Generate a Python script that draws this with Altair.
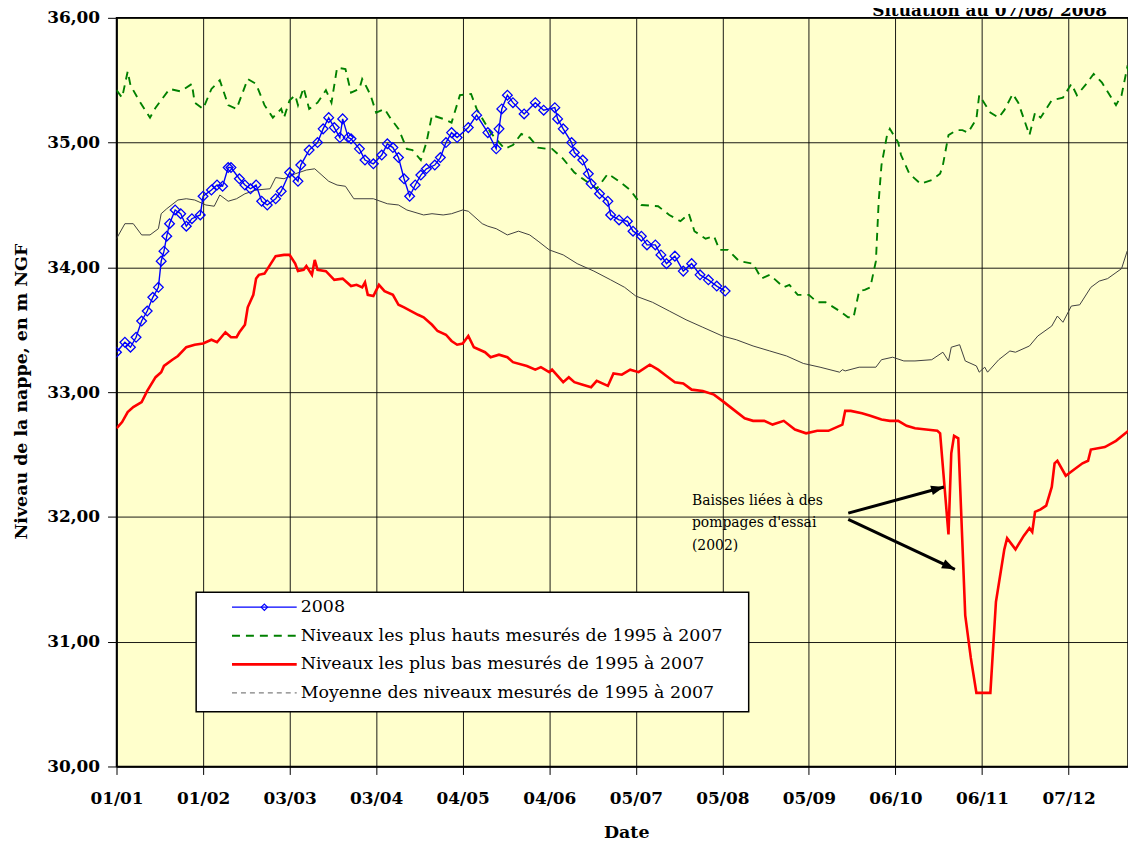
import math
import altair as alt
import pandas as pd

# ---------------- data ----------------
tick_days = [0, 31, 62, 93, 124, 155, 186, 217, 248, 279, 310, 341]
tick_labels = ["01/01", "01/02", "03/03", "03/04", "04/05", "04/06",
               "05/07", "05/08", "05/09", "06/10", "06/11", "07/12"]
y_ticks = [30, 31, 32, 33, 34, 35, 36]

series_names = ["2008",
                "Niveaux les plus hauts mesurés de 1995 à 2007",
                "Niveaux les plus bas mesurés de 1995 à 2007",
                "Moyenne des niveaux mesurés de 1995 à 2007"]

y2008_days = [0, 3, 5, 7, 9, 11, 13, 15, 16, 17, 18, 19, 21, 23, 25, 27, 30, 31, 34, 36,
              38, 40, 41, 44, 46, 48, 50, 52, 54, 57, 59, 62, 65, 66, 69, 72, 74, 76, 78, 80,
              81, 83, 84, 87, 89, 92, 95, 97, 99, 101, 103, 105, 107, 109, 111, 114, 116, 118, 120, 122,
              126, 129, 133, 136, 137, 138, 140, 142, 146, 150, 153, 157, 158, 160, 163, 164, 167, 169, 170, 173,
              176, 177, 180, 183, 185, 188, 190, 193, 195, 197, 200, 203, 206, 209, 212, 215, 218]
y2008_vals = [33.32, 33.40, 33.36, 33.44, 33.57, 33.65, 33.76, 33.84, 34.05, 34.13, 34.25, 34.35, 34.46, 34.43, 34.33, 34.39, 34.42, 34.57, 34.62, 34.66,
              34.65, 34.80, 34.80, 34.71, 34.66, 34.63, 34.66, 34.53, 34.50, 34.55, 34.61, 34.76, 34.69, 34.82, 34.94, 35.00, 35.11, 35.20, 35.12, 35.04,
              35.19, 35.04, 35.03, 34.95, 34.86, 34.83, 34.90, 34.99, 34.96, 34.88, 34.71, 34.57, 34.66, 34.74, 34.79, 34.82, 34.88, 35.00, 35.08, 35.04,
              35.12, 35.22, 35.08, 34.95, 35.11, 35.27, 35.38, 35.32, 35.23, 35.32, 35.26, 35.28, 35.19, 35.11, 35.00, 34.92, 34.86, 34.75, 34.67, 34.59,
              34.53, 34.42, 34.38, 34.37, 34.29, 34.25, 34.18, 34.18, 34.10, 34.03, 34.09, 33.97, 34.03, 33.94, 33.90, 33.85, 33.81]

max_days = [0, 2, 4, 5, 8, 12, 14, 19, 23, 27, 28, 31, 34, 37, 40, 43, 47, 50, 53, 56,
            59, 60, 62, 64, 65, 67, 69, 72, 75, 77, 79, 82, 84, 87, 88, 89, 91, 93, 96, 98,
            101, 104, 106, 109, 111, 113, 117, 120, 123, 127, 129, 134, 139, 142, 145, 148, 151, 154, 156, 160,
            164, 167, 172, 176, 180, 184, 188, 194, 198, 202, 205, 207, 211, 214, 216, 219, 223, 228, 231, 234,
            239, 241, 244, 248, 251, 254, 259, 262, 264, 266, 268, 270, 272, 273, 274, 276, 277, 280, 281, 284,
            288, 292, 295, 296, 298, 301, 303, 305, 308, 309, 313, 316, 318, 321, 323, 327, 329, 331, 335, 339,
            342, 344, 347, 350, 353, 358, 360, 362, 363]
max_vals = [35.42, 35.36, 35.57, 35.46, 35.34, 35.20, 35.28, 35.43, 35.41, 35.47, 35.32, 35.27, 35.43, 35.50, 35.30, 35.27, 35.51, 35.47, 35.30, 35.20,
            35.27, 35.20, 35.34, 35.38, 35.30, 35.44, 35.27, 35.32, 35.42, 35.32, 35.60, 35.59, 35.40, 35.43, 35.51, 35.47, 35.38, 35.24, 35.27, 35.20,
            35.11, 34.95, 34.94, 34.86, 35.00, 35.22, 35.19, 35.16, 35.38, 35.39, 35.27, 35.08, 34.95, 34.98, 35.07, 35.04, 34.96, 34.95, 34.95, 34.87,
            34.76, 34.71, 34.63, 34.75, 34.69, 34.62, 34.50, 34.49, 34.42, 34.37, 34.43, 34.29, 34.23, 34.25, 34.14, 34.14, 34.05, 34.03, 33.91, 33.94,
            33.84, 33.86, 33.78, 33.78, 33.72, 33.72, 33.65, 33.60, 33.60, 33.81, 33.82, 33.84, 34.05, 34.53, 34.82, 35.06, 35.11, 35.00, 34.90, 34.75,
            34.67, 34.70, 34.75, 34.82, 35.06, 35.10, 35.10, 35.08, 35.19, 35.38, 35.24, 35.20, 35.26, 35.39, 35.32, 35.06, 35.24, 35.20, 35.34, 35.36,
            35.47, 35.38, 35.46, 35.55, 35.48, 35.30, 35.38, 35.60, 35.55]

min_days = [0, 2, 4, 6, 9, 11, 14, 16, 17, 20, 22, 25, 28, 31, 34, 36, 39, 41, 43, 44,
            46, 47, 49, 50, 51, 53, 55, 57, 60, 62, 64, 65, 67, 68, 70, 71, 72, 75, 78, 81,
            84, 86, 88, 89, 90, 92, 94, 96, 99, 101, 103, 108, 110, 113, 115, 118, 120, 122, 124, 126,
            128, 132, 134, 137, 140, 142, 147, 150, 152, 155, 156, 160, 162, 164, 167, 170, 172, 176, 178, 181,
            184, 187, 191, 194, 197, 200, 203, 206, 210, 214, 217, 221, 225, 228, 232, 235, 239, 243, 247, 251,
            255, 259, 260, 261, 263, 267, 270, 274, 277, 280, 283, 286, 290, 294, 295, 298, 299, 300, 301.5, 304,
            306, 308, 313, 315, 318, 319, 322, 325, 327, 328, 329, 331, 333, 335, 336, 337, 340, 343, 346, 348,
            349, 354, 358, 363]
min_vals = [32.71, 32.76, 32.84, 32.88, 32.92, 33.01, 33.12, 33.16, 33.21, 33.26, 33.29, 33.36, 33.38, 33.39, 33.42, 33.40, 33.48, 33.44, 33.44, 33.48,
            33.54, 33.68, 33.78, 33.91, 33.94, 33.95, 34.02, 34.09, 34.10, 34.10, 34.03, 33.97, 33.98, 34.01, 33.94, 34.06, 33.98, 33.97, 33.90, 33.91,
            33.85, 33.86, 33.84, 33.88, 33.78, 33.77, 33.86, 33.81, 33.78, 33.70, 33.68, 33.62, 33.60, 33.54, 33.49, 33.46, 33.41, 33.38, 33.39, 33.45,
            33.36, 33.32, 33.28, 33.30, 33.28, 33.24, 33.21, 33.18, 33.20, 33.16, 33.18, 33.08, 33.12, 33.08, 33.06, 33.04, 33.09, 33.05, 33.15, 33.14,
            33.18, 33.16, 33.22, 33.18, 33.13, 33.08, 33.07, 33.02, 33.01, 32.98, 32.93, 32.86, 32.79, 32.77, 32.77, 32.74, 32.77, 32.70, 32.67, 32.69,
            32.69, 32.73, 32.74, 32.85, 32.85, 32.83, 32.81, 32.78, 32.77, 32.77, 32.73, 32.71, 32.70, 32.69, 32.67, 31.86, 32.51, 32.65, 32.63, 31.21,
            30.87, 30.59, 30.59, 31.32, 31.74, 31.83, 31.74, 31.85, 31.91, 31.88, 32.04, 32.06, 32.09, 32.24, 32.43, 32.45, 32.33, 32.38, 32.43, 32.45,
            32.54, 32.56, 32.61, 32.70]

mean_days = [0, 3, 6, 9, 12, 15, 16, 18, 22, 25, 28, 32, 35, 37, 40, 43, 46, 50, 55, 57,
             60, 64, 68, 71, 76, 79, 82, 85, 89, 92, 97, 101, 104, 110, 113, 117, 120, 124, 126, 131,
             133, 136, 140, 144, 148, 151, 155, 160, 165, 171, 177, 182, 186, 192, 198, 204, 210, 217, 222, 228,
             234, 240, 246, 252, 259, 260, 261, 266, 272, 274, 278, 282, 286, 292, 296, 298, 299, 302, 304, 308,
             309, 311, 312, 316, 320, 322, 327, 330, 335, 337, 339, 342, 345, 349, 352, 355, 360, 362, 363]
mean_vals = [34.23, 34.35, 34.35, 34.26, 34.26, 34.31, 34.43, 34.47, 34.54, 34.55, 34.54, 34.50, 34.49, 34.58, 34.53, 34.55, 34.59, 34.62, 34.63, 34.72,
             34.71, 34.75, 34.78, 34.79, 34.69, 34.66, 34.65, 34.55, 34.55, 34.55, 34.51, 34.50, 34.46, 34.42, 34.43, 34.42, 34.43, 34.46, 34.45, 34.35,
             34.33, 34.31, 34.26, 34.29, 34.26, 34.21, 34.14, 34.10, 34.03, 33.97, 33.90, 33.84, 33.77, 33.72, 33.65, 33.58, 33.52, 33.45, 33.42, 33.37,
             33.33, 33.29, 33.23, 33.20, 33.16, 33.18, 33.17, 33.20, 33.20, 33.26, 33.28, 33.25, 33.25, 33.26, 33.32, 33.25, 33.36, 33.38, 33.25, 33.21,
             33.16, 33.20, 33.16, 33.26, 33.33, 33.32, 33.37, 33.45, 33.53, 33.61, 33.56, 33.69, 33.70, 33.84, 33.89, 33.91, 33.99, 34.13, 34.16]

annot_lines = ["Baisses liées à des", "pompages d'essai", "(2002)"]
title_text = "Situation au 07/08/ 2008"

# ---------------- layout / style ----------------
FONT = "DejaVu Serif"
W, H = 1016, 752
X_MAX = 362.3
Y_MIN, Y_MAX = 30, 36
PX_DAY = W / X_MAX
PX_UNIT = H / (Y_MAX - Y_MIN)

label_expr = ("[" + ",".join("'%s'" % l for l in tick_labels) + "][indexof(["
              + ",".join(str(d) for d in tick_days) + "], datum.value)]")

X = alt.X("day:Q",
          scale=alt.Scale(domain=[0, X_MAX], nice=False, zero=False),
          axis=alt.Axis(values=tick_days, labelExpr=label_expr, title="Date",
                        titleX=512, titleY=71, titleBaseline="alphabetic", titleAlign="center",
                        grid=True, labelPadding=16, tickSize=8, labelFlush=False,
                        labelOverlap=False))
Y = alt.Y("value:Q",
          scale=alt.Scale(domain=[Y_MIN, Y_MAX], nice=False, zero=False),
          axis=alt.Axis(values=y_ticks,
                        labelExpr="replace(format(datum.value, '.2f'), '.', ',')",
                        title="Niveau de la nappe, en m NGF",
                        titleX=-90, titleY=375, titleAngle=270, titleBaseline="alphabetic",
                        titleAlign="center", grid=True, labelPadding=8, tickSize=9))

df2008 = pd.DataFrame({"day": y2008_days, "value": y2008_vals})
dfmax = pd.DataFrame({"day": max_days, "value": max_vals})
dfmin = pd.DataFrame({"day": min_days, "value": min_vals})
dfmean = pd.DataFrame({"day": mean_days, "value": mean_vals})

BLUE, GREEN, RED, GRAY = "#0000FF", "#008000", "#FF0000", "#404040"

mean_line = alt.Chart(dfmean).mark_line(color=GRAY, strokeWidth=1, clip=True).encode(x=X, y=Y)
min_line = alt.Chart(dfmin).mark_line(color=RED, strokeWidth=2.6, clip=True).encode(x=X, y=Y)
max_line = alt.Chart(dfmax).mark_line(color=GREEN, strokeWidth=1.9, strokeDash=[8, 6],
                                      clip=True).encode(x=X, y=Y)
line2008 = alt.Chart(df2008).mark_line(color=BLUE, strokeWidth=1.4, clip=True).encode(x=X, y=Y)
pts2008 = alt.Chart(df2008).mark_point(shape="diamond", filled=False, color=BLUE, size=95,
                                       strokeWidth=1.3, opacity=1, clip=True).encode(x=X, y=Y)

# ---------------- annotation (data coordinates) ----------------
arrows = pd.DataFrame({"day": [262.1, 262.1], "value": [32.03, 31.98],
                       "day2": [296.4, 300.3], "value2": [32.24, 31.58]})
arrows["angle"] = [
    (math.degrees(math.atan2(-(r.value2 - r.value) * PX_UNIT, (r.day2 - r.day) * PX_DAY)) + 360) % 360
    for r in arrows.itertuples()]
arrow_lines = alt.Chart(arrows).mark_rule(color="black", strokeWidth=3).encode(
    x=X, y=Y, x2="day2:Q", y2="value2:Q")
heads = arrows[["day2", "value2", "angle"]].rename(columns={"day2": "day", "value2": "value"})
arrow_heads = alt.Chart(heads).mark_point(
    shape="M0,0L-2,-0.75L-2,0.75Z", filled=True, color="black", size=169, opacity=1,
    strokeWidth=0).encode(x=X, y=Y, angle=alt.Angle("angle:Q", scale=None))
annot_df = pd.DataFrame({"day": [206.1] * 3, "value": [32.13, 31.95, 31.77], "txt": annot_lines})
annot_text = alt.Chart(annot_df).mark_text(align="left", baseline="middle", font=FONT,
                                           fontSize=14, color="black").encode(
    x=X, y=Y, text="txt:N")

# ---------------- legend (built by hand) ----------------
one = pd.DataFrame({"k": [0]})
LX0, LX1, LTX = 116, 181, 185
ROW0, ROWSTEP = 592, 28.7
leg_box = alt.Chart(one).mark_rect(fill="white", stroke="black", strokeWidth=1.5).encode(
    x=alt.value(80), x2=alt.value(635), y=alt.value(577), y2=alt.value(697))
leg_blue = alt.Chart(one).mark_rule(color=BLUE, strokeWidth=1.2).encode(
    x=alt.value(LX0), x2=alt.value(LX1), y=alt.value(ROW0))
leg_blue_pt = alt.Chart(one).mark_point(shape="diamond", filled=False, color=BLUE, size=40,
                                        strokeWidth=1.2, opacity=1).encode(
    x=alt.value((LX0 + LX1) / 2), y=alt.value(ROW0))
leg_green = alt.Chart(one).mark_rule(color=GREEN, strokeWidth=1.9, strokeDash=[8, 6]).encode(
    x=alt.value(LX0), x2=alt.value(LX1), y=alt.value(ROW0 + ROWSTEP))
leg_red = alt.Chart(one).mark_rule(color=RED, strokeWidth=2.6).encode(
    x=alt.value(LX0), x2=alt.value(LX1), y=alt.value(ROW0 + 2 * ROWSTEP))
leg_gray = alt.Chart(one).mark_rule(color="#808080", strokeWidth=1.2, strokeDash=[5, 4]).encode(
    x=alt.value(LX0), x2=alt.value(LX1), y=alt.value(ROW0 + 3 * ROWSTEP))
leg_text = alt.Chart(pd.DataFrame({"name": series_names})).transform_window(
    idx="row_number()").transform_calculate(
    ly="%f + (datum.idx - 1) * %f" % (ROW0, ROWSTEP)).mark_text(
    align="left", baseline="middle", font=FONT, fontSize=17.5, color="black").encode(
    x=alt.value(LTX), y=alt.Y("ly:Q", scale=None), text="name:N")

title = alt.Chart(one).mark_text(align="right", baseline="alphabetic", font=FONT, fontSize=17,
                                 fontWeight="bold", color="black").encode(
    x=alt.value(995), y=alt.value(-2), text=alt.value(title_text))

chart = alt.layer(
    mean_line, min_line, max_line, line2008, pts2008,
    arrow_lines, arrow_heads, annot_text,
    leg_box, leg_blue, leg_blue_pt, leg_green, leg_red, leg_gray, leg_text,
    title,
).properties(
    width=W, height=H,
    autosize=alt.AutoSizeParams(type="none"),
    padding={"left": 109, "top": 8, "right": 0, "bottom": 74},
    background="white",
).configure_view(
    fill="#FFFFCC", stroke="black", strokeWidth=1.5
).configure_axis(
    domainColor="black", domainWidth=1.5, gridColor="black", gridWidth=1, gridOpacity=0.9,
    tickColor="black", tickWidth=1,
    labelFont=FONT, labelFontSize=17, labelFontWeight="bold", labelColor="black",
    titleFont=FONT, titleFontSize=17.5, titleFontWeight="bold", titleColor="black",
)

chart.save("out.html", embed_options={"renderer": "svg", "actions": False})
